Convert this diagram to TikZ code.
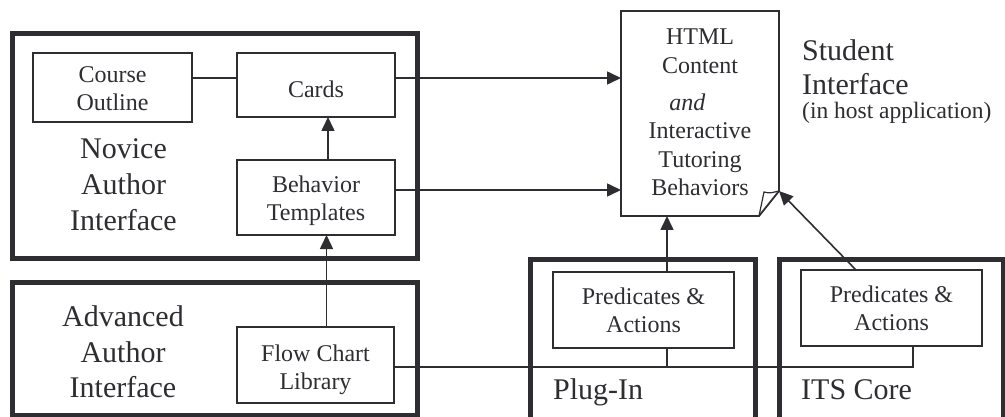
\documentclass[tikz,border=0pt]{standalone}
\usepackage{fontspec}
\setmainfont{Liberation Serif}
\usetikzlibrary{arrows.meta,calc}
\definecolor{ink}{RGB}{45,45,50}
\newcommand\bxfont{\fontsize{24}{28}\selectfont}
\newcommand\lblfont{\fontsize{30}{36}\selectfont}
\newcommand\lift[1]{\rule{0pt}{#1}}
\begin{document}
\begin{tikzpicture}[x=1pt,y=-1pt,
  frame/.style={draw=ink, line width=5pt, inner sep=0pt, outer sep=0pt},
  box/.style={draw=ink, line width=1.8pt, inner sep=0pt, outer sep=0pt, align=center, font=\bxfont, text=ink},
  lbl/.style={font=\lblfont, text=ink, inner sep=0pt, anchor=base},
  lblw/.style={lbl, anchor=base west},
  conn/.style={draw=ink, line width=1.6pt},
  arr/.style={conn, -{Triangle[length=14pt,width=13pt]}}]
\useasboundingbox (0,0) rectangle (1005,417);
\clip (0,0) rectangle (1005,417);
% frames
\node[frame, minimum width=405pt, minimum height=224pt] (novice) at (214.5,146) {};
\node[frame, minimum width=405.5pt, minimum height=133pt] (advanced) at (214.75,348.5) {};
\node[frame, minimum width=225pt, minimum height=190pt] (plugin) at (643,354.5) {};
\node[frame, minimum width=223.5pt, minimum height=190pt] (itscore) at (891.25,354.5) {};
% boxes
\node[box, minimum width=159pt, minimum height=69pt] (co) at (112.5,87.5) {\lift{19pt}Course\\Outline};
\node[box, minimum width=158pt, minimum height=64pt] (cards) at (316,85) {\lift{24.5pt}Cards};
\node[box, minimum width=158pt, minimum height=75pt] (bt) at (316,197.5) {\lift{22.5pt}Behavior\\Templates};
\node[box, minimum width=157pt, minimum height=76pt] (fc) at (315.5,365) {\lift{26.5pt}Flow Chart\\Library};
\node[box, minimum width=181pt, minimum height=76pt] (pp) at (643.5,310) {\lift{18pt}Predicates \&\\Actions};
\node[box, minimum width=181pt, minimum height=76pt] (ip) at (891.5,308) {\lift{18pt}Predicates \&\\Actions};
% html document
\node[inner sep=0pt, outer sep=0pt, minimum width=158pt, minimum height=205pt] (html) at (700,113.5) {};
\node[inner sep=0pt, anchor=north, align=center, text=ink, font=\fontsize{24}{28.5}\selectfont] (htmltext) at (700,29)
  {HTML\\Content\\[8.5pt]\hspace*{-25pt}\textit{and}\\Interactive\\Tutoring\\Behaviors};
\coordinate (curlA) at ([xshift=-20pt]html.south east);
\coordinate (curlB) at ([xshift=-15pt,yshift=24pt]html.south east);
\coordinate (curlC) at ([yshift=25pt]html.south east);
\draw[conn, line width=1.8pt] (html.south west) -- (html.north west) -- (html.north east) -- (curlC) -- (curlA) -- cycle;
\draw[conn, line width=1.2pt] (curlA) -- (curlB) .. controls ([xshift=-9pt,yshift=22pt]html.south east) and ([xshift=-5pt,yshift=24pt]html.south east) .. (curlC);
% labels
\node[lbl] (nov1) at (123.5,159) {Novice};
\node[lbl] (nov2) at (123.5,195) {Author};
\node[lbl] (nov3) at (123.5,230) {Interface};
\node[lbl] (adv1) at (123,326) {Advanced};
\node[lbl] (adv2) at (123,362) {Author};
\node[lbl] (adv3) at (123,397) {Interface};
\node[lblw] (stu1) at (802,61) {Student};
\node[lblw] (stu2) at (802,95) {Interface};
\node[lblw, font=\fontsize{23.5}{26}\selectfont] (stu3) at (802,119) {(in host application)};
\node[lblw] (plg) at (553,399) {Plug-In};
\node[lblw] (its) at (801,399) {ITS Core};
% connectors
\draw[conn] ([yshift=7pt]cards.west) -- ([yshift=7pt]cards.west -| co.east);
\draw[arr] ([yshift=7pt]cards.east) -- ([yshift=7pt]cards.east -| html.west);
\draw[arr] ([yshift=7.5pt]bt.east) -- ([yshift=7.5pt]bt.east -| html.west);
\draw[arr] ([xshift=12pt]bt.north) -- ([xshift=12pt]bt.north |- cards.south);
\draw[arr] ([xshift=11pt]fc.north) -- ([xshift=11pt]fc.north |- bt.south);
\coordinate (busL) at ([yshift=-2pt]fc.east);
\draw[conn] (busL) -| ([xshift=21.5pt]ip.south);
\draw[conn] ([xshift=23.5pt]pp.south) -- ([xshift=23.5pt]pp.south |- busL);
\draw[arr] ([xshift=23.5pt]pp.north) -- ([xshift=23.5pt]pp.north |- html.south);
\draw[arr] ([xshift=-35.5pt]ip.north) -- (curlC);
\end{tikzpicture}
\end{document}
